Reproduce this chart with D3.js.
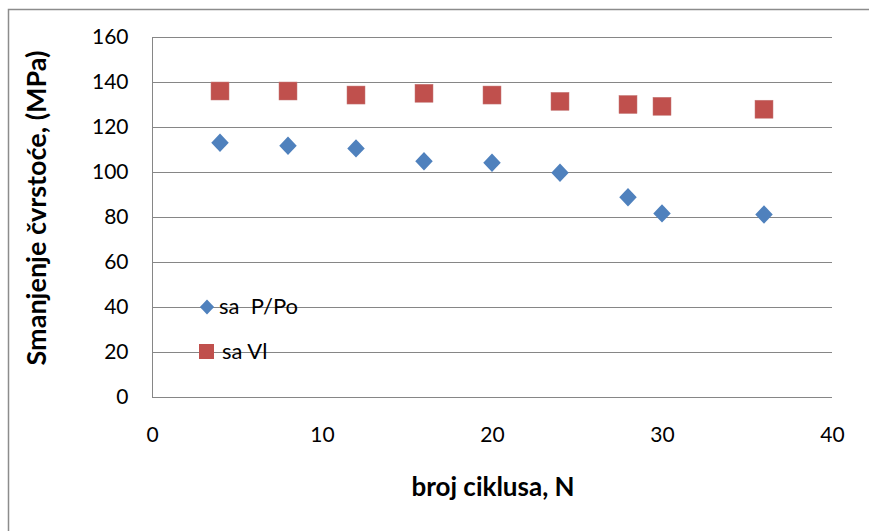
<!DOCTYPE html>
<html><head><meta charset="utf-8">
<script src="https://cdn.jsdelivr.net/npm/d3@7"></script>
<style>body{margin:0;background:#fff}svg{display:block}</style>
</head><body><svg id="c" width="869" height="531"></svg>
<script>
const cycles = [4, 8, 12, 16, 20, 24, 28, 30, 36];
const seriesPPo = [113, 111.7, 110.5, 104.8, 104.1, 99.7, 88.8, 81.6, 81.1];
const seriesVl = [136, 136, 134.2, 135, 134.2, 131.4, 130, 129.2, 127.9];
const seriesNames = ["sa  P/Po", "sa Vl"];
const xTicks = [0, 10, 20, 30, 40];
const yTicks = [0, 20, 40, 60, 80, 100, 120, 140, 160];
const xTitle = "broj ciklusa, N";
const yTitle = "Smanjenje čvrstoće, (MPa)";

const svg = d3.select("#c");
const font = "Lato, 'Open Sans', sans-serif";
const L = 152, R = 832, T = 37, B = 397;
const x = d3.scaleLinear().domain([0, 40]).range([L, R]);
const y = d3.scaleLinear().domain([0, 160]).range([B, T]);

// outer border
svg.append("path").attr("d", `M8.5,531 V9.5 H869`).attr("fill", "none").attr("stroke", "#8c8c8c").attr("stroke-width", 1.5);

// gridlines
svg.append("g").selectAll("line").data(yTicks.filter(d => d > 0)).join("line")
  .attr("x1", L).attr("x2", R).attr("y1", d => Math.round(y(d)) + 0.5).attr("y2", d => Math.round(y(d)) + 0.5)
  .attr("stroke", "#868686").attr("stroke-width", 1);

// axes
const yAxis = svg.append("g").attr("transform", `translate(${L + 0.5},0)`)
  .call(d3.axisLeft(y).tickValues(yTicks).tickSize(0).tickPadding(24));
const xAxis = svg.append("g").attr("transform", `translate(0,${B + 0.5})`)
  .call(d3.axisBottom(x).tickValues(xTicks).tickSize(0).tickPadding(30));
[yAxis, xAxis].forEach(a => {
  a.select(".domain").attr("stroke", "#868686").attr("stroke-width", 1);
  a.selectAll("text").attr("font-family", font).attr("font-size", 21).attr("fill", "#000");
});
yAxis.select(".domain").attr("d", `M0,${B}V${T}`);
xAxis.select(".domain").attr("d", `M${L},0H${R}`);

// titles
svg.append("text").attr("x", 493).attr("y", 496).attr("text-anchor", "middle")
  .attr("font-family", font).attr("font-weight", "bold").attr("font-size", 26).text(xTitle);
svg.append("text").attr("transform", "translate(46,208) rotate(-90)").attr("text-anchor", "middle")
  .attr("font-family", font).attr("font-weight", "bold").attr("font-size", 27).text(yTitle);

// markers
const diamond = s => `M0,${-s} L${s * 0.95},0 L0,${s} L${-s * 0.95},0 Z`;
svg.append("g").selectAll("rect").data(cycles.map((c, i) => [c, seriesVl[i]])).join("rect")
  .attr("x", d => x(d[0]) - 9).attr("y", d => y(d[1]) - 9).attr("width", 18).attr("height", 18)
  .attr("fill", "#C0504D").attr("stroke", "#c47a78").attr("stroke-width", 0.5);
svg.append("g").selectAll("path").data(cycles.map((c, i) => [c, seriesPPo[i]])).join("path")
  .attr("transform", d => `translate(${x(d[0])},${y(d[1])})`).attr("d", diamond(9.2))
  .attr("fill", "#4F81BD");

// legend
const lg = svg.append("g").attr("font-family", font).attr("font-size", 22);
lg.append("path").attr("transform", "translate(207,307)").attr("d", diamond(7.5)).attr("fill", "#4F81BD");
lg.append("text").attr("x", 219).attr("y", 314).text(seriesNames[0]).attr("xml:space", "preserve");
lg.append("rect").attr("x", 199).attr("y", 344).attr("width", 15).attr("height", 15).attr("fill", "#C0504D");
lg.append("text").attr("x", 222).attr("y", 359).text(seriesNames[1]);
</script></body></html>
